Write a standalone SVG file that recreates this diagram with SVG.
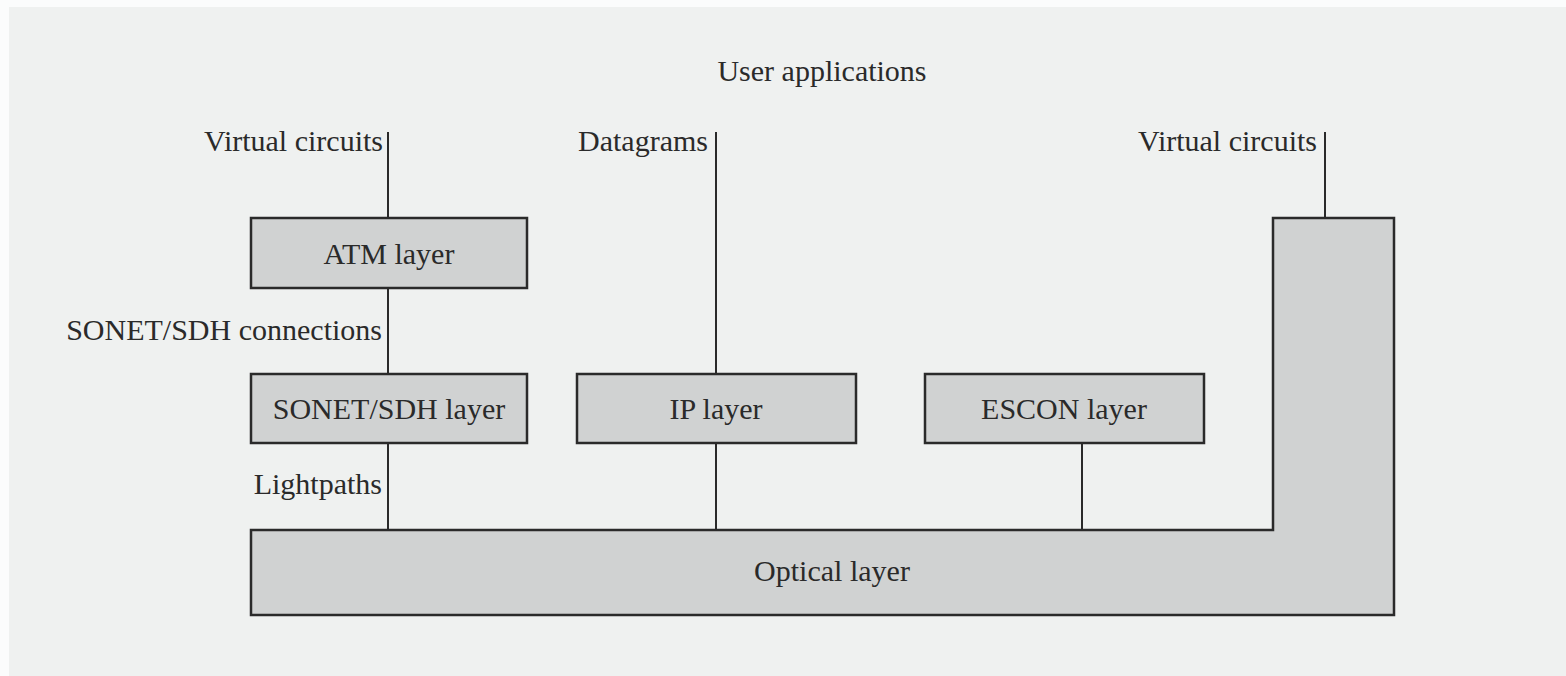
<svg xmlns="http://www.w3.org/2000/svg" width="1566" height="676" viewBox="0 0 1566 676">
  <style>
    .box { fill: #d0d2d2; stroke: #2a2a2a; stroke-width: 2.5; }
    .lbl { font-family: "Liberation Serif", "Times New Roman", serif; font-size: 30px; fill: #2a2a2a; }
    .mid { text-anchor: middle; }
    .end { text-anchor: end; }
    .wire { stroke: #2a2a2a; stroke-width: 2; fill: none; }
  </style>
  <rect x="0" y="0" width="1566" height="676" fill="#fbfcfc"/>
  <rect x="9" y="7" width="1557" height="669" fill="#eff1f0"/>

  <g id="connectors">
    <line class="wire" x1="388" y1="132" x2="388" y2="218"/>
    <line class="wire" x1="388" y1="288" x2="388" y2="374"/>
    <line class="wire" x1="388" y1="443" x2="388" y2="530"/>
    <line class="wire" x1="716" y1="132" x2="716" y2="374"/>
    <line class="wire" x1="716" y1="443" x2="716" y2="530"/>
    <line class="wire" x1="1082" y1="443" x2="1082" y2="530"/>
    <line class="wire" x1="1325" y1="132" x2="1325" y2="218"/>
  </g>

  <g id="labels">
    <text class="lbl mid" x="822" y="81">User applications</text>
    <text class="lbl end" x="383" y="151">Virtual circuits</text>
    <text class="lbl end" x="708" y="151">Datagrams</text>
    <text class="lbl end" x="1317" y="151">Virtual circuits</text>
    <text class="lbl end" x="382" y="340">SONET/SDH connections</text>
    <text class="lbl end" x="382" y="494">Lightpaths</text>
  </g>

  <g id="atm">
    <rect class="box" x="251" y="218" width="276" height="70"/>
    <text class="lbl mid" x="389" y="264">ATM layer</text>
  </g>

  <g id="sonet">
    <rect class="box" x="251" y="374" width="276" height="69"/>
    <text class="lbl mid" x="389" y="419">SONET/SDH layer</text>
  </g>

  <g id="ip">
    <rect class="box" x="577" y="374" width="279" height="69"/>
    <text class="lbl mid" x="716" y="419">IP layer</text>
  </g>

  <g id="escon">
    <rect class="box" x="925" y="374" width="279" height="69"/>
    <text class="lbl mid" x="1064" y="419">ESCON layer</text>
  </g>

  <g id="optical">
    <path class="box" d="M251 530 H1273 V218 H1394 V615 H251 Z"/>
    <text class="lbl mid" x="832" y="581">Optical layer</text>
  </g>
</svg>
